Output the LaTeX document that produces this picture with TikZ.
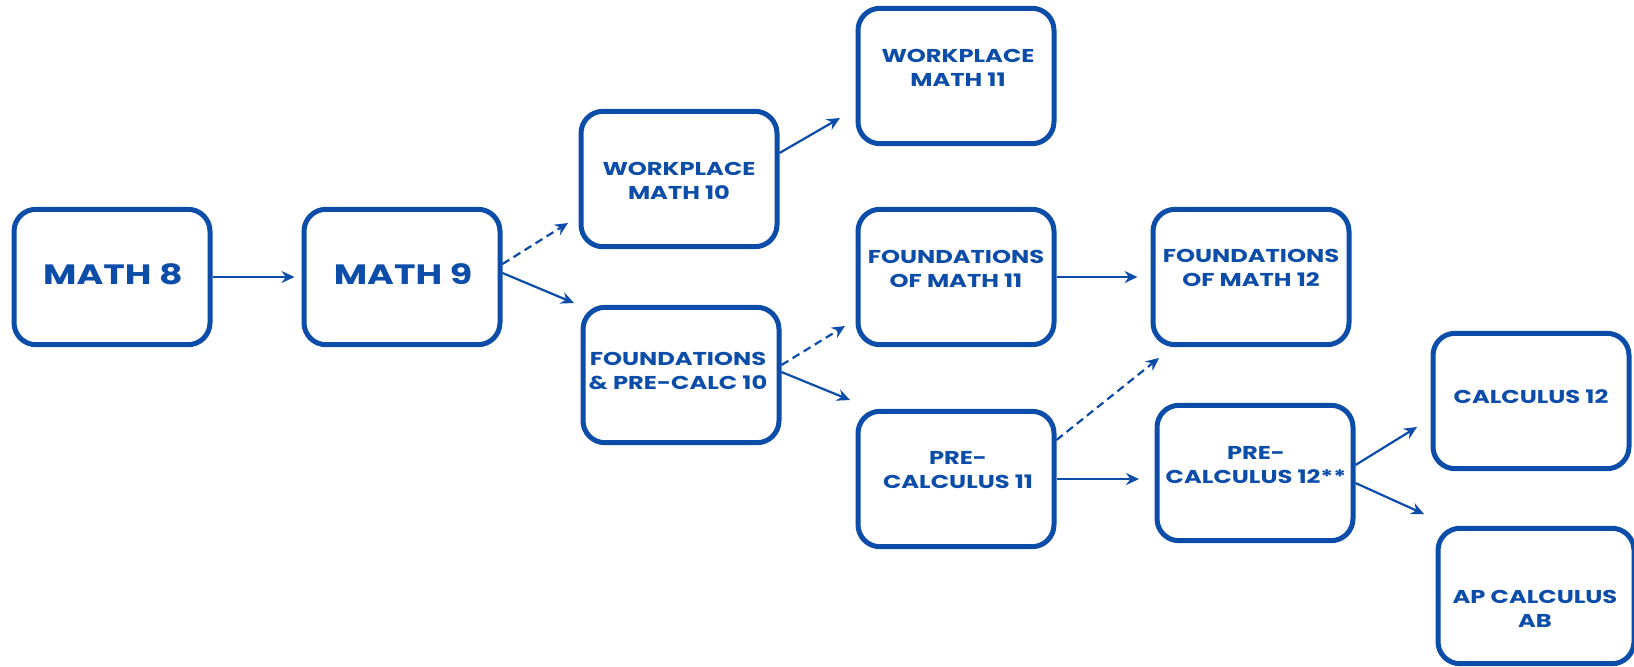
\documentclass[tikz,border=0pt]{standalone}
\usepackage{fontspec}
\usetikzlibrary{arrows.meta,calc}
\newfontfamily\boxfont{Poppins}[FakeStretch=1.3]
\definecolor{cblue}{RGB}{11,77,168}
\begin{document}
\begin{tikzpicture}[x=0.5pt,y=-0.5pt,
  box/.style={draw=cblue,line width=2.5pt,rounded corners=11pt,minimum width=98pt,minimum height=67.7pt,inner sep=0pt,fill=white},
  txt/.style={text=cblue,align=center,inner sep=0pt,font=\boxfont\bfseries\fontsize{9.3pt}{12pt}\selectfont},
  bigtxt/.style={text=cblue,align=center,inner sep=0pt,font=\boxfont\bfseries\fontsize{14pt}{16pt}\selectfont},
  arr/.style={draw=cblue,line width=1.1pt,-{Stealth[length=6.5pt,width=6pt,inset=2.2pt]}},
  darr/.style={arr,dash pattern=on 4pt off 2.5pt}]
\useasboundingbox (0,0) rectangle (1634,666);
% boxes
\node[box] (m8) at (112,277) {};
\node[box] (m9) at (402,277) {};
\node[box] (wm10) at (679,179) {};
\node[box] (wm11) at (956,76) {};
\node[box] (fom11) at (956,277) {};
\node[box] (fpc10) at (681,375) {};
\node[box] (pc11) at (956,479) {};
\node[box] (fom12) at (1251,277) {};
\node[box] (pc12) at (1255,473) {};
\node[box] (calc12) at (1531,401) {};
\node[box] (ap) at (1536,596) {};
% texts
\node[bigtxt] (m8t) at (113,274) {MATH 8};
\node[bigtxt] (m9t) at (403,274) {MATH 9};
\node[txt] (wm10t) at (679,181) {WORKPLACE\\MATH 10};
\node[txt] (wm11t) at (958,68) {WORKPLACE\\MATH 11};
\node[txt] (fom11t) at (956,269) {FOUNDATIONS\\OF MATH 11};
\node[txt] (fpc10t) at (678,371) {FOUNDATIONS\\\& PRE-CALC 10};
\node[txt] (pc11t) at (958,470) {PRE-\\CALCULUS 11};
\node[txt] (fom12t) at (1251,268) {FOUNDATIONS\\OF MATH 12};
\node[txt] (pc12t) at (1256,465) {PRE-\\CALCULUS 12**};
\node[txt] (calc12t) at (1531,397) {CALCULUS 12};
\node[txt] (apt) at (1535,609) {AP CALCULUS\\AB};
% free ends
\coordinate (e1) at (568,223);
\coordinate (e2) at (574,303);
\coordinate (e3) at (840,118);
\coordinate (e4) at (845,326);
\coordinate (e5) at (850,400);
\coordinate (e6) at (1159,358);
\coordinate (e7) at (1139,479);
\coordinate (e8) at (1417,427);
\coordinate (e9) at (1424,514);
% connectors
\draw[arr] (m8.east) -- ([xshift=-3.5pt]m9.west);
\draw[darr] ([yshift=6.5pt]m9.east) -- (e1);
\draw[arr] ([yshift=2pt]m9.east) -- (e2);
\draw[arr] ([yshift=13pt]wm10.east) -- (e3);
\draw[darr] ([yshift=5pt]fpc10.east) -- (e4);
\draw[arr] ([yshift=1.5pt]fpc10.east) -- (e5);
\draw[arr] (fom11.east) -- ([xshift=-6.5pt]fom12.west);
\draw[darr] ([yshift=19.5pt]pc11.east) -- (e6);
\draw[arr] (pc11.east) -- (e7);
\draw[arr] ([yshift=4pt]pc12.east) -- (e8);
\draw[arr] ([yshift=-5pt]pc12.east) -- (e9);
\end{tikzpicture}
\end{document}
